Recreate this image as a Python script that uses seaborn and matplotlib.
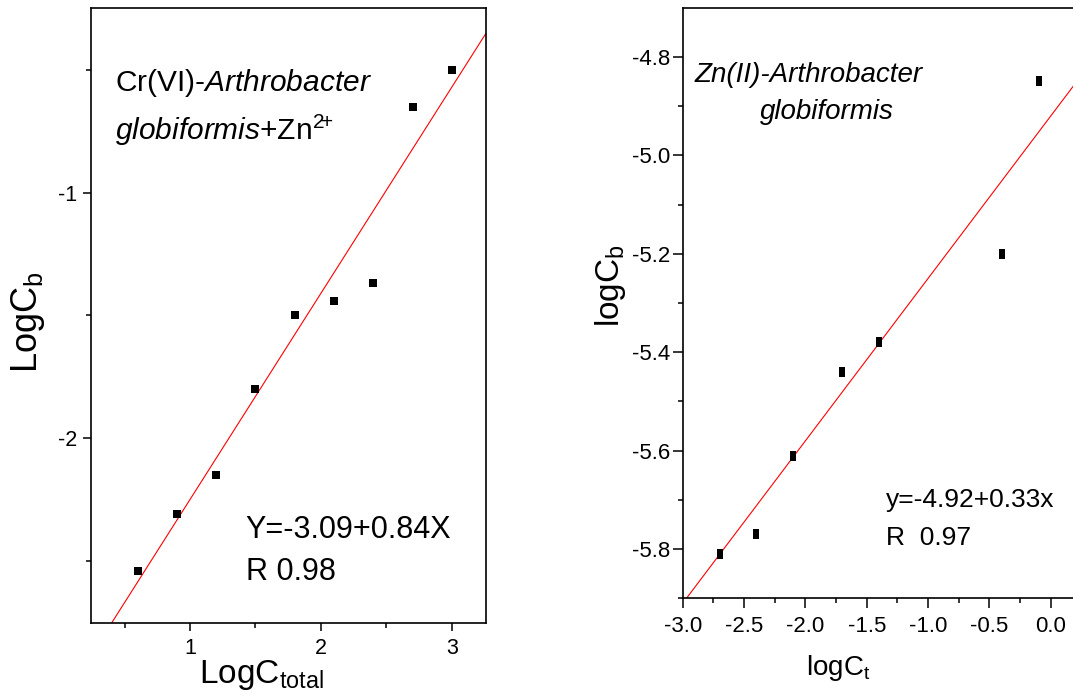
import matplotlib
matplotlib.use("Agg")
import matplotlib.pyplot as plt
from matplotlib.ticker import FixedLocator, FixedFormatter
import seaborn as sns

# ---- Cr(VI) uptake by Arthrobacter globiformis in presence of Zn2+ ----
cr_log_ctotal = [0.6, 0.9, 1.2, 1.5, 1.8, 2.1, 2.4, 2.7, 3.0]
cr_log_cb = [-2.54, -2.31, -2.15, -1.80, -1.50, -1.44, -1.37, -0.65, -0.50]
cr_intercept, cr_slope = -3.09, 0.84
cr_r = 0.98
cr_xticks = [1, 2, 3]
cr_xticklabels = ["1", "2", "3"]
cr_yticks = [-2, -1]
cr_yticklabels = ["-2", "-1"]

# ---- Zn(II) uptake by Arthrobacter globiformis ----
zn_log_ct = [-2.70, -2.40, -2.10, -1.70, -1.40, -0.40, -0.10]
zn_log_cb = [-5.81, -5.77, -5.61, -5.44, -5.38, -5.20, -4.85]
zn_intercept, zn_slope = -4.92, 0.33
zn_r = 0.97
zn_xticks = [-3.0, -2.5, -2.0, -1.5, -1.0, -0.5, 0.0]
zn_xticklabels = ["-3.0", "-2.5", "-2.0", "-1.5", "-1.0", "-0.5", "0.0"]
zn_yticks = [-5.8, -5.6, -5.4, -5.2, -5.0, -4.8]
zn_yticklabels = ["-5.8", "-5.6", "-5.4", "-5.2", "-5.0", "-4.8"]

sns.set_style("ticks", {"axes.edgecolor": "black", "xtick.color": "black",
                        "ytick.color": "black", "text.color": "black",
                        "axes.labelcolor": "black"})
plt.rcParams.update({
    "font.family": ["Liberation Sans", "DejaVu Sans"],
    "mathtext.fontset": "custom",
    "mathtext.rm": "Liberation Sans",
    "mathtext.it": "Liberation Sans:italic",
    "mathtext.bf": "Liberation Sans:bold",
    "axes.linewidth": 1.2,
})

fig = plt.figure(figsize=(10.73, 6.94), dpi=100)
ax1 = fig.add_axes([0.0848, 0.1026, 0.3681, 0.8864])
ax2 = fig.add_axes([0.6363, 0.1379, 0.3684, 0.8511])

# left panel
sns.scatterplot(x=cr_log_ctotal, y=cr_log_cb, ax=ax1, marker="s", s=36,
                color="black", linewidth=0, zorder=3)
ax1.axline((0, cr_intercept), slope=cr_slope, color="red", lw=0.8)
ax1.set_xlim(0.244, 3.26)
ax1.set_ylim(-2.752, -0.247)
ax1.xaxis.set_major_locator(FixedLocator(cr_xticks))
ax1.xaxis.set_major_formatter(FixedFormatter(cr_xticklabels))
ax1.yaxis.set_major_locator(FixedLocator(cr_yticks))
ax1.yaxis.set_major_formatter(FixedFormatter(cr_yticklabels))
ax1.xaxis.set_minor_locator(FixedLocator([0.5, 1.5, 2.5]))
ax1.yaxis.set_minor_locator(FixedLocator([-2.5, -1.5, -0.5]))
ax1.tick_params(which="major", length=6, width=1.1, labelsize=15.5, direction="out")
ax1.tick_params(which="minor", length=3.5, width=1.1, direction="out")
ax1.tick_params(axis="x", which="major", pad=5)
ax1.tick_params(axis="y", which="major", pad=4)
for s in ax1.spines.values():
    s.set_visible(True)
    s.set_linewidth(1.2)

ax1.text(0.061, 0.8641, r"Cr(VI)-$\mathit{Arthrobacter}$", transform=ax1.transAxes,
         fontsize=21.5, ha="left", va="baseline")
ax1.text(0.061, 0.7848, r"$\mathit{globiformis}$+Zn$^{\mathrm{2}\!\mathrm{+}}$",
         transform=ax1.transAxes, fontsize=21.5, ha="left", va="baseline")
ax1.text(0.392, 0.1378, f"Y={cr_intercept:.2f}+{cr_slope:.2f}X",
         transform=ax1.transAxes, fontsize=22, ha="left", va="baseline")
ax1.text(0.392, 0.0688, f"R {cr_r:.2f}", transform=ax1.transAxes,
         fontsize=22, ha="left", va="baseline")

fig.text(0.0261, 0.536, r"LogC$_{\mathrm{b}}$", rotation=90, fontsize=26,
         ha="center", va="center")
fig.text(0.244, 0.0159, r"LogC$_{\mathrm{total}}$", fontsize=24,
         ha="center", va="baseline")

# right panel
rect = [(-0.28, -0.5), (0.28, -0.5), (0.28, 0.5), (-0.28, 0.5), (-0.28, -0.5)]
sns.scatterplot(x=zn_log_ct, y=zn_log_cb, ax=ax2, marker=rect, s=44,
                color="black", linewidth=0, zorder=3)
ax2.axline((0, zn_intercept), slope=zn_slope, color="red", lw=0.8)
ax2.set_xlim(-3.0, 0.222)
ax2.set_ylim(-5.90, -4.70)
ax2.xaxis.set_major_locator(FixedLocator(zn_xticks))
ax2.xaxis.set_major_formatter(FixedFormatter(zn_xticklabels))
ax2.yaxis.set_major_locator(FixedLocator(zn_yticks))
ax2.yaxis.set_major_formatter(FixedFormatter(zn_yticklabels))
ax2.xaxis.set_minor_locator(FixedLocator([-2.75, -2.25, -1.75, -1.25, -0.75, -0.25]))
ax2.yaxis.set_minor_locator(FixedLocator([-5.9, -5.7, -5.5, -5.3, -5.1, -4.9]))
ax2.tick_params(which="major", length=7, width=1.1, labelsize=16, direction="out")
ax2.tick_params(which="minor", length=3.5, width=1.1, direction="out")
ax2.tick_params(axis="x", which="major", pad=6)
ax2.tick_params(axis="y", which="major", pad=2)
for s in ax2.spines.values():
    s.set_visible(True)
    s.set_linewidth(1.2)
ax2.spines["right"].set_visible(False)

ax2.text(0.031, 0.8735, "Zn(II)-Arthrobacter", transform=ax2.transAxes,
         fontsize=20, fontstyle="italic", ha="left", va="baseline")
ax2.text(0.196, 0.811, "globiformis", transform=ax2.transAxes,
         fontsize=20, fontstyle="italic", ha="left", va="baseline")
ax2.text(0.514, 0.1546, f"y={zn_intercept:.2f}+{zn_slope:.2f}x",
         transform=ax2.transAxes, fontsize=19, ha="left", va="baseline")
ax2.text(0.514, 0.0902, f"R  {zn_r:.2f}", transform=ax2.transAxes,
         fontsize=19, ha="left", va="baseline")

fig.text(0.5685, 0.589, r"logC$_{\mathrm{b}}$", rotation=90, fontsize=24,
         ha="center", va="center")
fig.text(0.781, 0.0274, r"logC$_{\mathrm{t}}$", fontsize=20,
         ha="center", va="baseline")

fig.savefig("out.png", dpi=100)
